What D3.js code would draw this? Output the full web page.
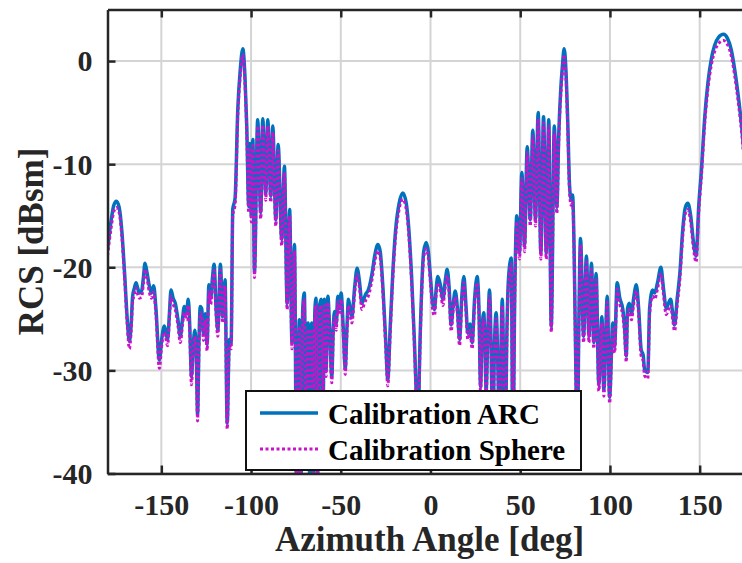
<!DOCTYPE html>
<html>
<head>
<meta charset="utf-8">
<script src="https://cdn.jsdelivr.net/npm/d3@7"></script>
<style>
  html, body { margin: 0; padding: 0; background: #fff; overflow: hidden; }
  svg { display: block; font-family: "Liberation Serif", "Times New Roman", serif; font-weight: bold; }
</style>
</head>
<body>
<svg id="chart" width="742" height="563"></svg>
<script>
// ---- Data ----
const azimuth = [
  -180, -178, -176.5, -175, -173.5, -172, -170.5, -169, -167.8, -166.8,
  -166, -165, -164.1, -163.2, -162.3, -161, -160, -159.1, -158, -156.7,
  -155.5, -154.3, -153, -151.1, -149.8, -148.3, -146.5, -145.5, -144.6, -143.4,
  -142.2, -140.8, -139.4, -138.2, -137.2, -136, -135, -134.2, -133.2, -132.2,
  -131.3, -130.5, -129.8, -129, -128.3, -127.5, -126.5, -125.5, -124.5, -123.5,
  -122.5, -121.5, -120.6, -119.5, -118.5, -117.1, -115.8, -114.5, -113.3, -112.1,
  -111.1, -110.2, -108.9, -107.4, -106, -104.6, -103.4, -102.4, -101.3, -100.6,
  -99.9, -99.0, -98.1, -96.3, -94.6, -93.5, -91.8, -90.7, -89.0, -87.9,
  -86.2, -84.9, -82.9, -81.4, -79.9, -78.5, -77.2, -75.8, -74.6, -73.1,
  -72.2, -71.2, -70.3, -69.3, -68.2, -67.2, -66.2, -65.2, -64.5, -63.8,
  -62.9, -62.0, -61.0, -60.0, -59.1, -58.2, -57.2, -56.2, -55.0, -54.2,
  -53.5, -52.5, -51.7, -50.8, -49.8, -48.6, -47.5, -46.6, -45.7, -44.8,
  -43.8, -42.3, -40.9, -39.5, -38.2, -37, -35.8, -34.9, -34.0, -32.5,
  -31, -29.3, -28, -26.5, -25, -23.8, -22.5, -21, -19.5, -17.5,
  -15.4, -13.5, -12, -10.5, -9, -7.8, -7.0, -6.2, -5, -3.8,
  -2.4, -1.2, 0, 1.2, 2.2, 3.2, 4.1, 5.6, 6.9, 8.1,
  9.3, 10.4, 11.5, 12.7, 13.8, 15.0, 16.2, 17.4, 18.6, 19.7,
  20.8, 22.0, 23.2, 24.6, 26.0, 27.0, 27.9, 28.8, 29.7, 30.4,
  31.0, 32.0, 32.9, 33.8, 34.7, 35.6, 36.6, 37.6, 38.5, 39.3,
  40.0, 40.8, 41.6, 42.6, 43.5, 45.0, 45.9, 47.0, 48.1, 49.6,
  50.9, 52.4, 53.9, 55.6, 57.0, 58.5, 60.0, 61.5, 63.0, 64.5,
  65.9, 67.3, 69.0, 70.4, 71.5, 72.5, 73.5, 74.5, 75.5, 76.5,
  77.5, 78.4, 79.2, 80.0, 81.0, 81.8, 82.7, 83.6, 85.3, 86.9,
  88.3, 89.7, 91.0, 92.3, 93.8, 95.5, 96.6, 98.5, 99.8, 101.6,
  102.6, 104.0, 105.5, 107.2, 108.2, 109.1, 109.8, 110.8, 112.0, 113.2,
  114.7, 116, 117.4, 118.5, 119.3, 121.1, 122.1, 123.8, 124.9, 126.5,
  128.4, 129.8, 131.4, 132.6, 133.8, 135, 136.0, 137.5, 139.0, 140.5,
  142.0, 143.4, 145.0, 146.5, 148.0, 149.5, 151.0, 152.8, 154.6, 156.5,
  158.3, 160.5, 163.3, 165.5, 167.6, 169.5, 171.3, 173.4, 175, 177,
  180
];
const arcRCS = [
  -18.3, -15.5, -14.0, -13.6, -14.2, -16.5, -20.5, -25.0, -27.2, -25.5,
  -22.8, -22.0, -21.5, -22.0, -22.5, -22.3, -21.0, -19.6, -20.5, -21.8,
  -22.5, -21.8, -24.0, -29.0, -27.0, -25.7, -27.0, -24.5, -22.2, -23.0,
  -23.5, -25.0, -26.7, -25.0, -23.8, -24.5, -23.1, -25.5, -30.6, -27.5,
  -26.1, -28.5, -34.3, -27.0, -23.8, -24.0, -26.5, -24.5, -27.5, -21.7,
  -23.0, -21.0, -19.7, -24.0, -26.1, -19.7, -24.8, -21.2, -35.1, -27.0,
  -27.3, -14.4, -13.3, -4.7, -0.8, 1.2, -1.5, -6.3, -14.1, -8.0,
  -15.0, -7.6, -20.4, -5.7, -14.7, -5.6, -12.9, -5.7, -13.1, -6.3,
  -15.4, -8.1, -17.3, -10.2, -23.5, -14.4, -27.3, -17.8, -42, -25.1,
  -41, -24.0, -22.5, -38, -25.4, -42, -25.4, -40, -24.5, -23.0,
  -42, -24.0, -23.1, -36, -23.1, -30, -22.8, -26.0, -30.6, -26.0,
  -24.3, -25.5, -22.8, -24.0, -22.5, -26.0, -29.8, -26.0, -23.1, -24.0,
  -24.8, -22.0, -20.1, -21.5, -23.5, -23.0, -22.5, -22.3, -21.8, -20.5,
  -18.8, -17.8, -18.5, -22.0, -27.0, -30.9, -26.0, -20.5, -16.5, -13.8,
  -12.8, -13.8, -16.5, -21.0, -27.0, -33.0, -38.0, -30.0, -22.5, -18.5,
  -17.6, -18.5, -21.0, -23.5, -24.1, -22.0, -20.9, -21.8, -23.1, -21.5,
  -20.2, -22.0, -25.6, -23.5, -22.3, -24.0, -27.0, -23.0, -20.9, -23.5,
  -26.4, -25.5, -27.3, -23.0, -20.9, -24.0, -31.6, -26.0, -24.4, -28.0,
  -32.0, -26.0, -22.2, -28.0, -38.0, -28.0, -24.4, -30.0, -38.0, -28.0,
  -23.1, -30.0, -38.0, -26.0, -21.0, -19.1, -38.0, -22.0, -15.0, -18.6,
  -10.8, -17.9, -8.3, -15.4, -6.7, -15.4, -5.0, -18.6, -5.4, -18.6,
  -5.7, -25.7, -6.3, -14.2, -7.0, -3.0, -0.5, 1.2, -1.0, -6.0,
  -12.1, -13.4, -13.0, -18.0, -30.0, -38.0, -25.0, -17.2, -26.7, -18.9,
  -26.7, -19.6, -27.3, -20.6, -31.4, -24.8, -31.9, -22.8, -32.6, -25.4,
  -27.7, -21.5, -23.0, -24.1, -26.0, -28.6, -24.0, -23.5, -24.5, -23.0,
  -21.7, -24.0, -28.0, -28.5, -29.9, -30.2, -24.0, -22.2, -22.5, -21.5,
  -20.0, -22.0, -24.0, -23.5, -23.1, -24.5, -25.6, -23.0, -20.5, -16.5,
  -14.2, -13.8, -15.0, -17.5, -18.9, -14.0, -10.5, -5.5, -2.1, 0.2,
  1.5, 2.3, 2.6, 2.2, 1.1, -0.8, -3.1, -6.3, -9.5, -13.0,
  -18.3
];
const sphereRCS = [
  -18.9, -16.2, -14.6, -14.2, -14.7, -17.0, -21.0, -25.6, -27.9, -26.1,
  -23.4, -22.6, -22.0, -22.6, -23.0, -22.9, -21.6, -20.2, -21.0, -22.4,
  -23.0, -22.4, -24.6, -29.8, -27.6, -26.3, -27.6, -25.0, -22.8, -23.6,
  -24.1, -25.6, -27.3, -25.6, -24.4, -25.1, -23.7, -26.1, -31.4, -28.1,
  -26.7, -29.1, -34.9, -27.6, -24.4, -24.6, -27.1, -25.1, -28.1, -22.3,
  -23.6, -21.6, -20.3, -24.6, -26.7, -20.3, -25.4, -21.8, -35.7, -27.6,
  -27.9, -15.0, -13.9, -5.3, -1.4, 0.6, -2.1, -6.9, -14.7, -8.6,
  -15.6, -8.2, -21.0, -6.3, -15.3, -6.2, -13.5, -6.3, -13.7, -6.9,
  -16.0, -8.7, -17.9, -10.8, -24.1, -15.0, -27.9, -18.4, -42, -25.7,
  -41, -24.6, -23.1, -38.6, -26.0, -42, -26.0, -40.6, -25.1, -23.6,
  -42, -24.6, -23.7, -36.6, -23.7, -30.6, -23.4, -26.6, -31.2, -26.6,
  -24.9, -26.1, -23.4, -24.6, -23.1, -26.6, -30.4, -26.6, -23.7, -24.6,
  -25.4, -22.6, -20.7, -22.1, -24.1, -23.6, -23.1, -22.9, -22.4, -21.1,
  -19.4, -18.4, -19.1, -22.6, -27.6, -31.5, -26.6, -21.1, -17.1, -14.4,
  -13.4, -14.4, -17.1, -21.6, -27.6, -33.6, -38.6, -30.6, -23.1, -19.1,
  -18.2, -19.1, -21.6, -24.1, -24.7, -22.6, -21.5, -22.4, -23.7, -22.1,
  -20.8, -22.6, -26.2, -24.1, -22.9, -24.6, -27.6, -23.6, -21.5, -24.1,
  -27.0, -26.1, -27.9, -23.6, -21.5, -24.6, -32.2, -26.6, -25.0, -28.6,
  -32.6, -26.6, -22.8, -28.6, -38.6, -28.6, -25.0, -30.6, -38.6, -28.6,
  -23.7, -30.6, -38.6, -26.6, -21.6, -19.7, -38.6, -22.6, -15.6, -19.2,
  -11.4, -18.5, -8.9, -16.0, -7.3, -16.0, -5.6, -19.2, -6.0, -19.2,
  -6.3, -26.3, -6.9, -14.8, -7.6, -3.6, -1.1, 0.6, -1.6, -6.6,
  -12.7, -14.0, -13.6, -18.6, -30.6, -38.6, -25.6, -17.8, -27.3, -19.5,
  -27.3, -20.2, -27.9, -21.2, -32.0, -25.4, -32.5, -23.4, -33.2, -26.0,
  -28.3, -22.1, -23.6, -24.7, -26.6, -29.2, -24.6, -24.1, -25.1, -23.6,
  -22.3, -24.6, -28.6, -29.1, -30.5, -30.8, -24.6, -22.8, -23.1, -22.1,
  -20.6, -22.6, -24.6, -24.1, -23.7, -25.1, -26.2, -23.6, -21.1, -17.1,
  -14.8, -14.4, -15.6, -18.1, -19.5, -14.6, -11.1, -6.1, -2.7, -0.4,
  0.9, 1.7, 2.0, 1.6, 0.5, -1.4, -3.7, -6.9, -10.1, -13.6,
  -18.9
];
const xTicks = [-150, -100, -50, 0, 50, 100, 150];
const yTicks = [-40, -30, -20, -10, 0];
const seriesNames = ["Calibration ARC", "Calibration Sphere"];
const xLabel = "Azimuth Angle [deg]";
const yLabel = "RCS [dBsm]";

// ---- Drawing ----
const svg = d3.select("#chart");
const pLeft = 107.5, pRight = 753.5, pTop = 9.5, pBottom = 473.5;
const x = d3.scaleLinear().domain([-180, 180]).range([pLeft, pRight]);
const y = d3.scaleLinear().domain([-40, 5]).range([pBottom, pTop]);
const axisColor = "#262626";
const arcColor = "#0072BD";
const sphereColor = "#CC11CC";

svg.append("defs").append("clipPath").attr("id", "plotClip")
  .append("rect").attr("x", pLeft).attr("y", pTop)
  .attr("width", pRight - pLeft).attr("height", pBottom - pTop);

// grid
const grid = svg.append("g");
grid.selectAll("line.gx").data(xTicks).join("line").attr("class", "gx")
  .attr("x1", d => x(d)).attr("x2", d => x(d))
  .attr("y1", pTop).attr("y2", pBottom)
  .attr("stroke", "#d4d4d4").attr("stroke-width", 2);
grid.selectAll("line.gy").data(yTicks).join("line").attr("class", "gy")
  .attr("y1", d => y(d)).attr("y2", d => y(d))
  .attr("x1", pLeft).attr("x2", pRight)
  .attr("stroke", "#d4d4d4").attr("stroke-width", 2);

// series
const rows = azimuth.map((a, i) => ({ a, arc: arcRCS[i], sph: sphereRCS[i] }));
const plot = svg.append("g").attr("clip-path", "url(#plotClip)");
const lineArc = d3.line().x(d => x(d.a)).y(d => y(d.arc)).curve(d3.curveMonotoneX);
const lineSph = d3.line().x(d => x(d.a)).y(d => y(d.sph)).curve(d3.curveMonotoneX);
plot.append("path").datum(rows).attr("d", lineArc)
  .attr("fill", "none").attr("stroke", arcColor).attr("stroke-width", 3.5)
  .attr("stroke-linejoin", "round");
plot.append("path").datum(rows).attr("d", lineSph)
  .attr("fill", "none").attr("stroke", sphereColor).attr("stroke-width", 3)
  .attr("stroke-dasharray", "3,2.5");

// axes
const fmt = d => String(d);
const gx = svg.append("g").attr("transform", `translate(0,${pBottom})`)
  .call(d3.axisBottom(x).tickValues(xTicks).tickFormat(fmt).tickSizeInner(-8).tickSizeOuter(0).tickPadding(0));
const gxTop = svg.append("g").attr("transform", `translate(0,${pTop})`)
  .call(d3.axisTop(x).tickValues(xTicks).tickFormat(() => "").tickSizeInner(-8).tickSizeOuter(0));
const gy = svg.append("g").attr("transform", `translate(${pLeft},0)`)
  .call(d3.axisLeft(y).tickValues(yTicks).tickFormat(fmt).tickSizeInner(-8).tickSizeOuter(0).tickPadding(15));
[gx, gxTop, gy].forEach(g => {
  g.select(".domain").attr("stroke", axisColor).attr("stroke-width", 2.5);
  g.selectAll(".tick line").attr("stroke", axisColor).attr("stroke-width", 2.5);
  g.selectAll(".tick text").attr("fill", axisColor)
    .style("font-family", '"Liberation Serif", "Times New Roman", serif')
    .style("font-weight", "bold").style("font-size", "30px");
});
gx.selectAll(".tick text").attr("y", 41).attr("dy", 0);
gy.selectAll(".tick text").attr("dy", "0.33em");

// axis labels
svg.append("text").attr("x", (x(-180) + x(180)) / 2 - 1).attr("y", 551)
  .attr("text-anchor", "middle").attr("fill", axisColor)
  .style("font-size", "35px").text(xLabel);
svg.append("text").attr("transform", `translate(43,${(pTop + pBottom) / 2}) rotate(-90)`)
  .attr("text-anchor", "middle").attr("fill", axisColor)
  .style("font-size", "35px").text(yLabel);

// legend
const lg = svg.append("g");
lg.append("rect").attr("x", 246).attr("y", 391).attr("width", 335).attr("height", 79)
  .attr("fill", "#fff").attr("stroke", "#111").attr("stroke-width", 2);
const legendItems = [
  { name: seriesNames[0], color: arcColor, dash: null, w: 3.5, yy: 413 },
  { name: seriesNames[1], color: sphereColor, dash: "3,2.5", w: 3, yy: 449 }
];
legendItems.forEach(it => {
  lg.append("line").attr("x1", 260).attr("x2", 318).attr("y1", it.yy).attr("y2", it.yy)
    .attr("stroke", it.color).attr("stroke-width", it.w)
    .attr("stroke-dasharray", it.dash);
  lg.append("text").attr("x", 328).attr("y", it.yy + 11).attr("fill", "#000")
    .style("font-size", "29px").text(it.name);
});
</script>
</body>
</html>
